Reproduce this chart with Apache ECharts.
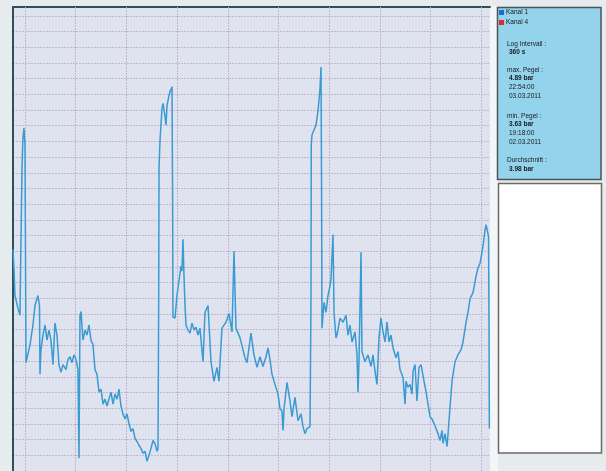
<!DOCTYPE html>
<html>
<head>
<meta charset="utf-8">
<script src="https://cdn.jsdelivr.net/npm/echarts@6/dist/echarts.min.js"></script>
<style>
html,body{margin:0;padding:0;background:#e6ebed;}
#c{width:606px;height:471px;}
</style>
</head>
<body>
<div id="c"></div>
<script>
// Time in hours since 02.03.2011 00:00, pressure in bar (Kanal 1)
const hours = [
-1.89,-1.74,-1.58,-1.10,-0.79,-0.63,-0.47,-0.32,-0.16,0.00,0.16,0.79,1.26,1.58,2.05,2.29,2.37,2.52,2.84,3.16,
3.47,3.79,4.10,4.42,4.73,5.05,5.36,5.68,6.00,6.47,6.78,7.10,7.42,7.73,8.05,8.36,8.52,8.68,8.84,9.15,
9.47,9.78,10.10,10.41,10.73,11.05,11.36,11.68,11.99,12.31,12.62,12.94,13.25,13.57,13.89,14.20,14.52,14.83,15.15,15.46,
15.78,16.09,16.41,16.73,17.04,17.36,17.67,17.99,18.30,18.62,18.94,19.25,19.57,19.88,20.20,20.51,20.83,20.99,21.10,21.15,
21.30,21.62,21.78,22.09,22.25,22.41,22.72,22.88,23.20,23.29,23.35,23.67,23.98,24.30,24.62,24.77,24.93,25.09,25.25,25.40,
25.72,26.04,26.35,26.67,26.98,27.30,27.61,28.09,28.40,28.88,29.35,29.82,30.30,30.61,31.08,31.72,32.19,32.66,32.98,33.29,
33.93,34.71,35.03,35.66,36.13,36.61,37.08,37.55,38.03,38.34,38.66,38.97,39.45,39.92,40.24,40.55,40.71,40.87,41.34,41.81,
42.13,42.60,43.08,43.55,43.87,44.18,44.50,44.97,45.13,45.17,45.28,45.60,45.92,46.07,46.23,46.55,46.71,46.80,46.86,47.18,
47.49,47.81,48.13,48.28,48.60,48.76,49.07,49.23,49.70,50.18,50.65,50.97,51.28,51.60,52.07,52.39,52.54,52.70,53.02,53.17,
53.65,54.12,54.60,54.91,55.23,55.54,55.86,56.17,56.49,56.80,57.12,57.44,57.75,58.07,58.54,58.86,59.17,59.65,59.96,60.12,
60.43,60.75,61.07,61.22,61.54,61.85,62.17,62.49,62.96,63.27,63.59,63.91,64.22,64.54,64.85,65.17,65.48,65.80,65.96,66.27,
66.59,66.75,67.06,67.38,67.85,68.32,68.80,69.11,69.59,69.90,70.22,70.69,71.17,71.48,71.80,72.27,72.59,72.75,73.06,73.14,
73.22,73.27
];
const kanal1 = [
4.306,4.247,4.159,4.118,4.096,4.331,4.567,4.661,4.692,4.639,3.945,4.002,4.065,4.127,4.159,4.127,3.908,3.986,4.033,4.065,
4.017,4.049,4.017,3.939,4.071,4.033,3.939,3.914,3.939,3.923,3.955,3.964,3.945,3.970,3.955,3.923,3.641,4.096,4.108,4.017,
4.049,4.033,4.065,4.017,4.002,3.923,3.908,3.851,3.861,3.813,3.829,3.807,3.829,3.851,3.813,3.845,3.829,3.861,3.807,3.782,
3.766,3.782,3.751,3.726,3.735,3.704,3.694,3.682,3.672,3.657,3.663,3.631,3.650,3.672,3.697,3.688,3.663,3.672,4.159,4.567,
4.651,4.755,4.771,4.730,4.702,4.764,4.796,4.808,4.824,4.473,4.090,4.087,4.159,4.206,4.253,4.237,4.338,4.221,4.127,4.065,
4.049,4.039,4.071,4.049,4.058,4.033,4.055,3.948,4.105,4.127,3.948,3.886,3.930,3.886,4.055,4.074,4.102,4.043,4.300,4.055,
4.024,3.961,3.945,4.039,3.970,3.930,3.964,3.933,3.964,3.992,3.955,3.908,3.876,3.845,3.798,3.791,3.729,3.798,3.882,3.823,
3.773,3.835,3.760,3.782,3.741,3.719,3.735,3.741,4.159,4.639,4.670,4.686,4.702,4.708,4.746,4.818,4.887,4.473,4.055,4.137,
4.105,4.159,4.190,4.212,4.353,4.105,4.024,4.033,4.087,4.074,4.096,4.033,4.065,4.011,4.043,3.970,3.851,3.948,4.297,3.980,
3.948,3.970,3.933,3.970,3.917,3.876,4.024,4.087,4.043,4.011,4.074,4.011,4.033,3.992,3.961,3.980,3.923,3.898,3.813,3.886,
3.867,3.876,3.845,3.917,3.939,3.823,3.930,3.939,3.886,3.854,3.813,3.773,3.766,3.751,3.757,3.719,3.697,3.729,3.688,3.719,
3.678,3.719,3.804,3.886,3.948,3.970,3.986,4.011,4.074,4.105,4.149,4.168,4.221,4.247,4.262,4.316,4.369,4.385,4.385,4.347,
4.055,3.735
];
const kanal4 = [];
const gridHours = [0, 8, 16, 24, 32, 40, 48, 56, 64, 72];
const seriesNames = ['Kanal 1', 'Kanal 4'];
const infoLines = [
  ['Log Intervall :', false], ['360 s', true],
  ['max. Pegel :', false], ['4.89 bar', true], ['22:54:00', false], ['03.03.2011', false],
  ['min. Pegel :', false], ['3.63 bar', true], ['19:18:00', false], ['02.03.2011', false],
  ['Durchschnitt :', false], ['3.98 bar', true]
];

const infoY = [44, 52, 70, 78, 87, 96, 116, 124, 133, 142, 160, 169];
const infoX = [507, 509, 507, 509, 509, 509, 507, 509, 509, 509, 507, 509];

const chart = echarts.init(document.getElementById('c'), null, {renderer: 'canvas'});

const graphics = [
  {type: 'rect', shape: {x: 490, y: 6, width: 8, height: 465}, style: {fill: '#f3f5f7'}, z: 0},
  {type: 'rect', shape: {x: 497.5, y: 7.5, width: 103.5, height: 172}, style: {fill: '#93d3ec', stroke: '#4d5257', lineWidth: 1.5}, z: 1},
  {type: 'rect', shape: {x: 498.5, y: 183.5, width: 103, height: 269.5}, style: {fill: '#ffffff', stroke: '#6a6a6a', lineWidth: 1.5}, z: 1}
];
infoLines.forEach((l, i) => {
  graphics.push({type: 'text', x: infoX[i], y: infoY[i], z: 5,
    style: {text: l[0], fill: '#1a1a1a', font: (l[1] ? 'bold ' : '') + '6.5px "Liberation Sans", Arial, sans-serif', textVerticalAlign: 'middle'}});
});

chart.setOption({
  animation: false,
  backgroundColor: '#e6ebed',
  grid: {left: 13, top: 7, width: 477, height: 471, show: true, backgroundColor: '#dfe3f0', borderWidth: 0},
  legend: {
    data: seriesNames, orient: 'vertical', left: 499, top: 9, itemWidth: 5, itemHeight: 5, itemGap: 3,
    icon: 'rect', padding: 0, z: 10,
    textStyle: {fontSize: 6.5, color: '#1a1a1a', fontFamily: 'Liberation Sans', padding: [0, 0, 0, -3]}
  },
  xAxis: {
    type: 'value', position: 'top', min: -1.89, max: 73.37,
    axisLine: {show: true, onZero: false, lineStyle: {color: '#2f4f5c', width: 2}},
    axisTick: {show: false}, axisLabel: {show: false}, splitLine: {show: false}
  },
  yAxis: {
    type: 'value', min: 3.60, max: 5.078, interval: 0.05,
    axisLine: {show: true, onZero: false, lineStyle: {color: '#2f4f5c', width: 2}},
    axisTick: {show: false}, axisLabel: {show: false},
    splitLine: {show: true, lineStyle: {color: '#c2b6c8', width: 1, type: [2, 1]}}
  },
  graphic: graphics,
  series: [
    {
      name: 'Kanal 1', type: 'line', z: 3, showSymbol: false, symbol: 'none',
      data: hours.map((h, i) => [h, kanal1[i]]),
      itemStyle: {color: '#1e6fc4'},
      lineStyle: {color: '#3a9ad2', width: 1.5},
      markLine: {
        silent: true, symbol: 'none', label: {show: false}, z: 1,
        lineStyle: {color: '#bfb6c9', width: 1, type: [2, 1]},
        data: gridHours.map(h => ({xAxis: h}))
      }
    },
    {
      name: 'Kanal 4', type: 'line', z: 3, showSymbol: false, data: kanal4,
      itemStyle: {color: '#e3262b'}, lineStyle: {color: '#e3262b'}
    }
  ]
});
</script>
</body>
</html>
